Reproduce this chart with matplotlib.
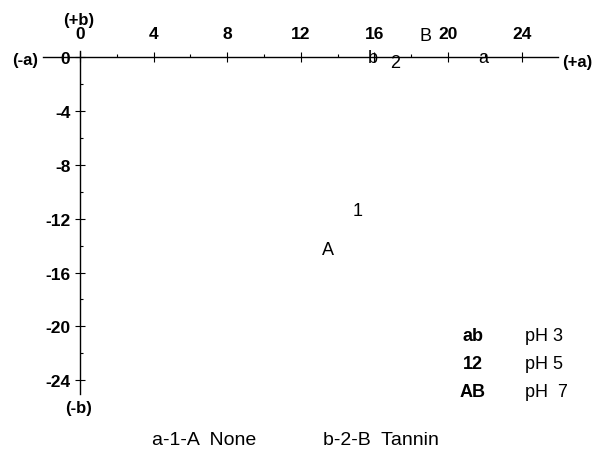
import matplotlib
matplotlib.use("Agg")
import matplotlib.pyplot as plt
import numpy as np

plt.rcParams['font.family'] = ['Liberation Sans', 'DejaVu Sans']

# Data
point_labels = ['a', '1', 'A', 'b', '2', 'B']
a_values = [21.9, 15.1, 13.5, 15.9, 17.1, 18.8]
b_values = [0.0, -11.4, -14.3, 0.0, -0.4, 1.6]

x_ticks = [0, 4, 8, 12, 16, 20, 24]
y_ticks = [0, -4, -8, -12, -16, -20, -24]
x_minor = [2, 6, 10, 14, 18, 22]
y_minor = [-2, -6, -10, -14, -18, -22]

legend_codes = ['ab', '12', 'AB']
legend_labels = ['pH 3', 'pH 5', 'pH  7']
series_notes = ['a-1-A  None', 'b-2-B  Tannin']

fig = plt.figure(figsize=(6.0, 4.52), dpi=100)
ax = fig.add_axes([0.072, 0.127, 0.8587, 0.759])
ax.set_xlim(-2, 26)
ax.set_ylim(-25, 0.5)

for s in ['top', 'right']:
    ax.spines[s].set_visible(False)
ax.spines['left'].set_position(('data', 0))
ax.spines['bottom'].set_position(('data', 0))
for s in ['left', 'bottom']:
    ax.spines[s].set_linewidth(1.0)

ax.set_xticks(x_ticks)
ax.set_xticklabels([str(t) for t in x_ticks], fontweight='bold', fontsize=12.5)
ax.set_xticks(x_minor, minor=True)
ax.set_yticks(y_ticks)
ax.set_yticklabels([str(t) for t in y_ticks], fontweight='bold', fontsize=12.5)
ax.set_yticks(y_minor, minor=True)

ax.tick_params(axis='x', which='major', direction='inout', length=7, width=0.8,
               top=False, bottom=True, labeltop=True, labelbottom=False, pad=3.5)
ax.tick_params(axis='x', which='minor', direction='in', length=2, width=0.8,
               top=False, bottom=True)
ax.tick_params(axis='y', which='major', direction='inout', length=7, width=0.8,
               pad=3.5)
ax.tick_params(axis='y', which='minor', direction='in', length=2, width=0.8)

for lab, xa, yb in zip(point_labels, a_values, b_values):
    ax.text(xa, yb, lab, ha='center', va='center', fontsize=13, clip_on=False)

# axis end labels
fig.text(79 / 600, 1 - 20 / 452, '(+b)', ha='center', va='center', fontweight='bold', fontsize=12)
fig.text(79 / 600, 1 - 409 / 452, '(-b)', ha='center', va='center', fontweight='bold', fontsize=12)
fig.text(25 / 600, 1 - 61 / 452, '(-a)', ha='center', va='center', fontweight='bold', fontsize=12)
fig.text(577 / 600, 1 - 62 / 452, '(+a)', ha='center', va='center', fontweight='bold', fontsize=12)

# legend block
for i, (code, lab) in enumerate(zip(legend_codes, legend_labels)):
    y = 1 - (337 + 28 * i) / 452
    fig.text(473 / 600, y, code, ha='center', va='center', fontweight='bold', fontsize=13)
    fig.text(525 / 600, y, lab, ha='left', va='center', fontsize=13)

fig.text(152 / 600, 1 - 441 / 452, series_notes[0], ha='left', va='center', fontsize=14)
fig.text(323 / 600, 1 - 441 / 452, series_notes[1], ha='left', va='center', fontsize=14)

fig.savefig('out.png', dpi=100)
